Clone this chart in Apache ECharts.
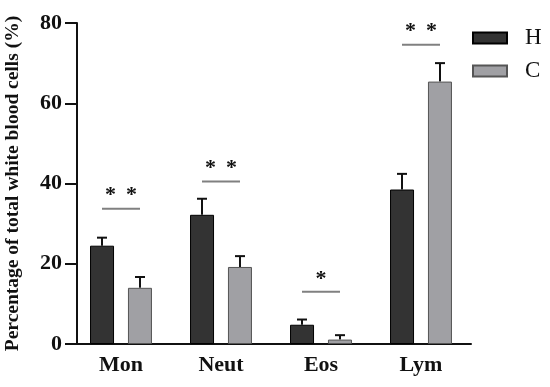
<!DOCTYPE html>
<html><head><meta charset="utf-8">
<script src="https://cdn.jsdelivr.net/npm/echarts@6/dist/echarts.min.js"></script>
<style>html,body{margin:0;padding:0;background:#fff}#c{width:550px;height:387px}</style>
</head><body><div id="c"></div>
<script>
const categories = ['Mon', 'Neut', 'Eos', 'Lym'];
const seriesNames = ['H', 'C'];
const hMeans = [24.5, 32.2, 4.8, 38.5];
const hErrTop = [26.5, 36.2, 6.1, 42.4];
const cMeans = [14.0, 19.2, 1.1, 65.4];
const cErrTop = [16.7, 21.9, 2.2, 70.0];
const sigLineValues = [33.7, 40.5, 13.0, 74.6];
const sigLabels = ['* \u2009*', '* \u2009*', '*', '* \u2009*'];
const yTicks = [0, 20, 40, 60, 80];

const chart = echarts.init(document.getElementById('c'));
const BAR_W = 24, BAR_OFF = 19;
const serif = '"Liberation Serif", "Times New Roman", serif';

function errRender(offset) {
  return function (params, api) {
    const idx = api.value(0);
    const base = api.coord([idx, api.value(1)]);
    const top = api.coord([idx, api.value(2)]);
    const x = base[0] + offset;
    return {
      type: 'group',
      children: [
        { type: 'line', shape: { x1: x, y1: base[1], x2: x, y2: top[1] }, style: { stroke: '#111', lineWidth: 2 } },
        { type: 'line', shape: { x1: x - 5, y1: top[1], x2: x + 5, y2: top[1] }, style: { stroke: '#111', lineWidth: 2 } }
      ]
    };
  };
}

chart.setOption({
  animation: false,
  grid: { left: 71, top: 23, width: 400, bottom: 43, containLabel: false, outerBoundsMode: 'none' },
  legend: {
    data: seriesNames,
    orient: 'vertical',
    left: 472, top: 26.5, padding: 0,
    itemWidth: 34, itemHeight: 11, itemGap: 10,
    icon: 'rect',
    textStyle: { fontFamily: serif, fontSize: 23, lineHeight: 22, color: '#111', padding: [0, 0, 0, 13] }
  },
  xAxis: {
    type: 'category',
    data: categories,
    axisLine: { lineStyle: { color: '#111', width: 2 } },
    axisTick: { alignWithLabel: true, length: 12, lineStyle: { color: '#111', width: 2 } },
    axisLabel: { fontFamily: serif, fontWeight: 'bold', fontSize: 22, color: '#111', margin: 10 }
  },
  yAxis: {
    type: 'value',
    min: yTicks[0], max: yTicks[yTicks.length - 1], interval: 20,
    offset: -6,
    name: 'Percentage of total white blood cells (%)',
    nameLocation: 'middle', nameGap: 54,
    nameTextStyle: { fontFamily: serif, fontWeight: 'bold', fontSize: 19.5, color: '#111' },
    axisLine: { show: true, lineStyle: { color: '#111', width: 2 } },
    axisTick: { show: true, length: 12, lineStyle: { color: '#111', width: 2 } },
    axisLabel: { fontFamily: serif, fontWeight: 'bold', fontSize: 22, color: '#111', margin: 15 },
    splitLine: { show: false }
  },
  series: [
    {
      name: 'H', type: 'bar', data: hMeans, barWidth: BAR_W, barGap: '58%',
      itemStyle: { color: '#333333', borderColor: '#000', borderWidth: 1 }
    },
    {
      name: 'C', type: 'bar', data: cMeans, barWidth: BAR_W,
      itemStyle: { color: '#a0a0a4', borderColor: '#555', borderWidth: 1 }
    },
    {
      type: 'custom', z: 1,
      data: categories.map((c, i) => [i, hMeans[i], hErrTop[i]]),
      renderItem: errRender(-BAR_OFF)
    },
    {
      type: 'custom', z: 1,
      data: categories.map((c, i) => [i, cMeans[i], cErrTop[i]]),
      renderItem: errRender(BAR_OFF)
    },
    {
      type: 'custom', z: 3,
      data: categories.map((c, i) => [i, sigLineValues[i]]),
      renderItem: function (params, api) {
        const idx = api.value(0);
        const p = api.coord([idx, api.value(1)]);
        const label = sigLabels[params.dataIndex];
        return {
          type: 'group',
          children: [
            { type: 'line', shape: { x1: p[0] - BAR_OFF, y1: p[1], x2: p[0] + BAR_OFF, y2: p[1] }, style: { stroke: '#808080', lineWidth: 2 } },
            { type: 'text', x: p[0], y: p[1] - 13, style: { text: label, fill: '#111', font: 'bold 22px ' + serif, textAlign: 'center', textVerticalAlign: 'middle' } }
          ]
        };
      }
    }
  ]
});
</script></body></html>
